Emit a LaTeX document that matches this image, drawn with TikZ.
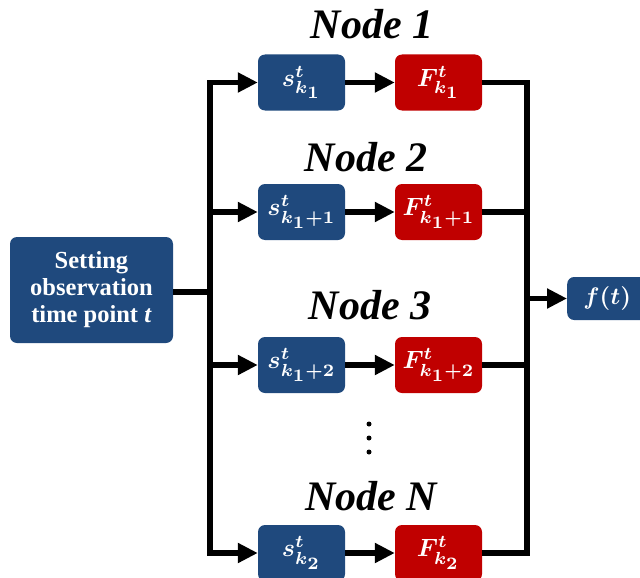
\documentclass[tikz,border=0pt]{standalone}
\usepackage{graphicx}
\usepackage{fontspec}
\setmainfont{Liberation Serif}
\usetikzlibrary{arrows.meta}
\definecolor{nblue}{HTML}{1F497D}
\definecolor{nred}{HTML}{C00000}
\newcommand{\bigmth}[1]{\scalebox{2.5}{$#1$}}
\begin{document}
\begin{tikzpicture}[x=1pt,y=-1pt,
  boxs/.style={fill=nblue,rounded corners=7pt,text=white,minimum width=87pt,minimum height=56pt,inner sep=0pt,font=\boldmath},
  boxf/.style={boxs,fill=nred},
  wire/.style={line width=5.5pt,line cap=butt,line join=miter},
  arr/.style={wire,-{Triangle[length=20pt,width=19pt]}},
  dot/.style={circle,fill=black,inner sep=0pt,minimum size=5pt},
  ttl/.style={font=\fontsize{42}{44}\selectfont\bfseries\itshape,inner sep=0pt}]
\useasboundingbox (0,0) rectangle (640,578);
\node[boxs,minimum width=163pt,minimum height=106pt,align=center,font=\fontsize{24.5}{27}\selectfont\bfseries] (in) at (91.5,290) {Setting\\observation\\time point \textit{t}};
\node[boxs] (s1) at (301.5,82.5) {\bigmth{s^t_{k_{\scriptstyle 1}}}};
\node[boxf] (f1) at (438.5,82.5) {\bigmth{F^t_{k_{\scriptstyle 1}}}};
\node[boxs] (s2) at (301.5,212) {\bigmth{s^t_{k_{\scriptstyle 1}+1}}};
\node[boxf] (f2) at (438.5,212) {\bigmth{F^t_{k_{\scriptstyle 1}+1}}};
\node[boxs] (s3) at (301.5,365) {\bigmth{s^t_{k_{\scriptstyle 1}+2}}};
\node[boxf] (f3) at (438.5,365) {\bigmth{F^t_{k_{\scriptstyle 1}+2}}};
\node[boxs] (s4) at (301.5,553) {\bigmth{s^t_{k_{\scriptstyle 2}}}};
\node[boxf] (f4) at (438.5,553) {\bigmth{F^t_{k_{\scriptstyle 2}}}};
\node[boxs,minimum width=80pt,minimum height=43pt,anchor=west,text width=73pt,align=center] (out) at (567,298.5) {\scalebox{2.4}{$f(t)$}};
\node[ttl] (t1) at (372,24) {Node 1};
\node[ttl] (t2) at (366,157) {Node 2};
\node[ttl] (t3) at (370,305) {Node 3};
\node[ttl] (t4) at (371,496) {Node N};
\node[dot] (d1) at (369,424) {};
\node[dot] (d2) at (369,438) {};
\node[dot] (d3) at (369,452) {};
\coordinate (lb) at (210,292);
\coordinate (lt) at (210,82.5);
\coordinate (lbot) at (210,553);
\coordinate (rt) at (527,82.5);
\coordinate (rbot) at (527,553);
\draw[wire] (in.east|-lb) -- (lb);
\draw[wire] (lt) -- (lbot);
\draw[arr] ([xshift=-2.75pt]lt) -- (s1.west);
\draw[arr] (210,212) -- (s2.west);
\draw[arr] (210,365) -- (s3.west);
\draw[arr] ([xshift=-2.75pt]lbot) -- (s4.west);
\draw[arr] (s1) -- (f1);
\draw[arr] (s2) -- (f2);
\draw[arr] (s3) -- (f3);
\draw[arr] (s4) -- (f4);
\draw[wire] (f1.east) -| (rbot);
\draw[wire] (f2.east) -- (f2.east-|rt);
\draw[wire] (f3.east) -- (f3.east-|rt);
\draw[wire] (f4.east) -- ([xshift=2.75pt]rbot);
\draw[arr] (527,298.5) -- (out.west);
\end{tikzpicture}
\end{document}
